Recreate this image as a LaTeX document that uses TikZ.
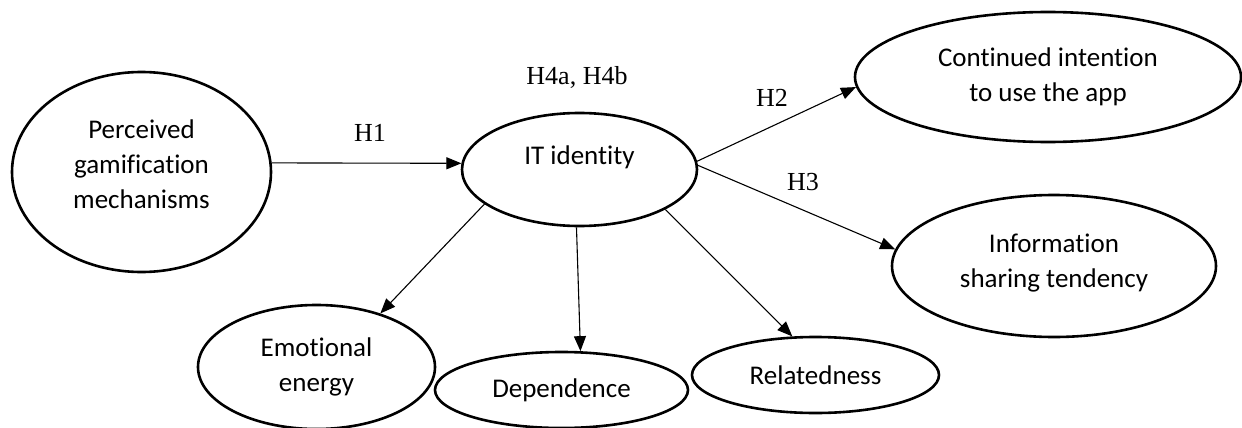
\documentclass[tikz,border=0pt]{standalone}
\usepackage{fontspec}
\setmainfont{Carlito}[Ligatures=NoCommon]
\newfontfamily\hfont{Liberation Serif}
\usetikzlibrary{shapes.geometric,arrows.meta}
\begin{document}
\begin{tikzpicture}[x=1pt,y=-1pt,
  oval/.style={ellipse,draw,line width=2.6pt,inner sep=0pt,align=center,
    font=\fontsize{27}{35}\selectfont},
  txt/.style={inner sep=0pt,align=center,font=\fontsize{27}{35}\selectfont},
  hyp/.style={inner sep=0pt,font=\hfont\fontsize{26}{30}\selectfont},
  arr/.style={line width=1.1pt,-{Triangle[length=15pt,width=12pt]}}]
\useasboundingbox (0,0) rectangle (1242,428);
\fill[white] (0,0) rectangle (1242,428);
% nodes
\node[oval,minimum width=259pt,minimum height=200pt,
  label={[txt,yshift=8pt]center:Perceived\\gamification\\mechanisms}] (pg) at (141.5,172) {};
\node[oval,minimum width=235pt,minimum height=113pt,
  label={[txt,yshift=12pt]center:IT identity}] (it) at (579.5,169.5) {};
\node[oval,minimum width=386pt,minimum height=130pt] (ci) at (1048,77) {Continued intention\\to use the app};
\node[oval,minimum width=324pt,minimum height=142pt,
  label={[txt,yshift=3pt]center:Information\\sharing tendency}] (is) at (1054,266) {};
\node[oval,minimum width=237pt,minimum height=124pt] (ee) at (316.5,367) {Emotional\\energy};
\node[oval,minimum width=253pt,minimum height=76pt] (dp) at (561.5,390) {Dependence};
\node[oval,minimum width=247pt,minimum height=76pt] (rl) at (815.5,375) {Relatedness};
% hypothesis labels
\node[hyp] (h1) at (370,133) {H1};
\node[hyp] (h4) at (577,77) {H4a, H4b};
\node[hyp] (h2) at (772,98) {H2};
\node[hyp] (h3) at (803,182) {H3};
% connectors
\draw[arr] (pg.4) -- (it.177);
\draw[arr] (it.4) -- (ci.183);
\draw[arr] (it.2) -- (is.174);
\draw[arr] (it.200) -- (ee.40);
\draw[arr] (it.267.5) -- (dp.64);
\draw[arr] (it.335) -- (rl.121);
\end{tikzpicture}
\end{document}
